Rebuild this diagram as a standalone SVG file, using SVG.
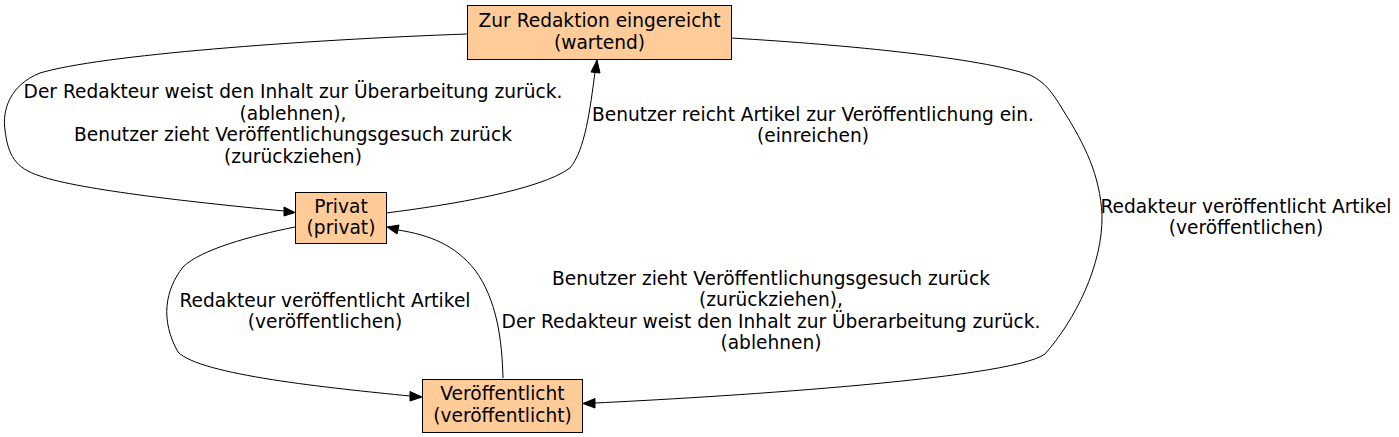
<svg xmlns="http://www.w3.org/2000/svg" width="1399" height="437" viewBox="0 0 1399 437">
<style>
.node rect{fill:#ffcc99;stroke:#000;stroke-width:1}
text{font-family:"DejaVu Sans",sans-serif;font-size:18.6px;fill:#000;text-anchor:middle}
.edge path{fill:none;stroke:#000;stroke-width:1}
.edge polygon{fill:#000;stroke:#000;stroke-width:1}
</style>
<rect width="1399" height="437" fill="#fff"/>
<g id="edges" class="edge">
<path d="M467,34 C300,40 100,55 40,73 C10,85 2,110 5,130 C8,155 15,168 40,176 C80,190 200,203 284,211"/>
<polygon points="284,207 295,212.5 284,216"/>
<path d="M386,213 C450,205 540,190 570,168 C585,150 590,110 595,72"/>
<polygon points="591,72 597,60 600,73"/>
<path d="M731,38 C850,45 980,58 1030,75 C1045,82 1052,92 1063,110 C1085,145 1100,175 1102,215 C1103,265 1075,320 1045,354 C1010,380 700,398 595,403"/>
<polygon points="595,398.5 583,403.5 595,408"/>
<path d="M295,227 C250,236 200,250 183,267 C165,290 160,320 178,352 C200,375 330,388 410,396"/>
<polygon points="410,391.5 422,397 410,401"/>
<path d="M503,378 C502,340 497,300 475,270 C455,245 430,235 398,230"/>
<polygon points="399,225 387,227 397,234"/>
</g>
<g id="labels">
<text x="293" y="98">Der Redakteur weist den Inhalt zur Überarbeitung zurück.</text>
<text x="293" y="120">(ablehnen),</text>
<text x="293" y="141">Benutzer zieht Veröffentlichungsgesuch zurück</text>
<text x="293" y="163">(zurückziehen)</text>
<text x="813" y="121">Benutzer reicht Artikel zur Veröffentlichung ein.</text>
<text x="813" y="142">(einreichen)</text>
<text x="1246" y="213">Redakteur veröffentlicht Artikel</text>
<text x="1246" y="234">(veröffentlichen)</text>
<text x="325" y="307">Redakteur veröffentlicht Artikel</text>
<text x="325" y="328">(veröffentlichen)</text>
<text x="771" y="285">Benutzer zieht Veröffentlichungsgesuch zurück</text>
<text x="771" y="306">(zurückziehen),</text>
<text x="771" y="328">Der Redakteur weist den Inhalt zur Überarbeitung zurück.</text>
<text x="771" y="349">(ablehnen)</text>
</g>
<g id="node_wartend" class="node">
<rect x="467.5" y="5.5" width="264" height="54"/>
<text x="599.5" y="27">Zur Redaktion eingereicht</text>
<text x="599.5" y="49">(wartend)</text>
</g>
<g id="node_privat" class="node">
<rect x="295.5" y="192.5" width="91" height="51"/>
<text x="341" y="213">Privat</text>
<text x="341" y="234">(privat)</text>
</g>
<g id="node_veroeffentlicht" class="node">
<rect x="422.5" y="379.5" width="160" height="53"/>
<text x="502.5" y="400">Veröffentlicht</text>
<text x="502.5" y="422">(veröffentlicht)</text>
</g>
</svg>
